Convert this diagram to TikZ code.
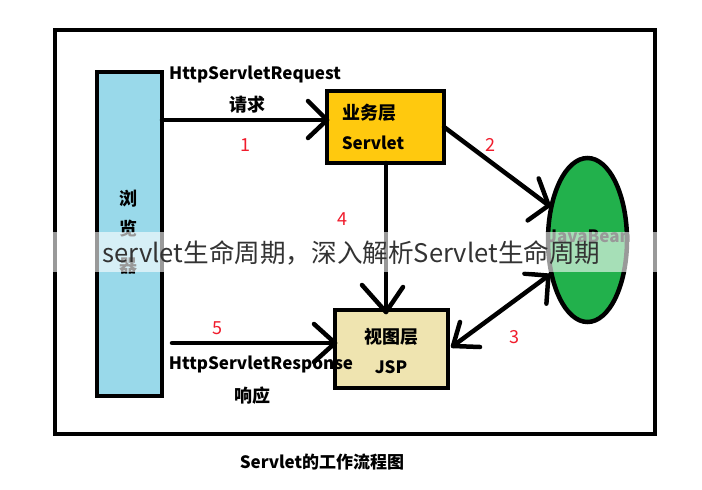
\documentclass[tikz,border=0pt]{standalone}
\usepackage{fontspec}
\setmainfont{Noto Sans CJK SC}
\definecolor{paintblue}{HTML}{99D9EA}
\definecolor{paintorange}{HTML}{FFC90E}
\definecolor{paintgreen}{HTML}{22B14C}
\definecolor{painttan}{HTML}{EFE4B0}
\definecolor{paintred}{HTML}{F01C2C}
\usetikzlibrary{shapes.geometric,calc}
\tikzset{
  x=1pt,y=-1pt,
  box/.style={draw=black,line width=4.5pt,outer sep=0pt,inner sep=0pt,anchor=north west},
  conn/.style={draw=black,line width=4.5pt,line cap=round,line join=round},
  lbl/.style={font=\bfseries\fontsize{17}{20}\selectfont,text=black,inner sep=0pt},
  cnlbl/.style={font=\bfseries\fontsize{18}{21}\selectfont,text=black,inner sep=0pt},
  num/.style={font=\fontsize{18}{21}\selectfont,text=paintred,inner sep=0pt},
}
\begin{document}
\begin{tikzpicture}
\useasboundingbox (0,0) rectangle (702,490);
\fill[white] (0,0) rectangle (702,490);
\draw[black,line width=4.5pt] (55,30) rectangle (655,434);
% boxes
\node[box,fill=paintblue,minimum width=65pt,minimum height=324pt] (browser) at (97,72) {};
\node[box,fill=paintorange,minimum width=117pt,minimum height=72pt] (servlet) at (327,91) {};
\node[box,fill=painttan,minimum width=113pt,minimum height=78pt] (jsp) at (335,310) {};
\node[draw=black,line width=4.5pt,fill=paintgreen,ellipse,outer sep=0pt,inner sep=0pt,minimum width=79pt,minimum height=164pt] (bean) at (587.5,240) {};
\coordinate (respstart) at (172,343);
% connectors
\draw[conn] (browser.east |- 0,120) coordinate (a1) -- (servlet.west |- a1) coordinate (t1);
\draw[conn] ($(t1)+(-19,-19)$) -- (t1) -- ($(t1)+(-19,18)$);
\coordinate (t2) at ($(bean.136)+(-3,0)$);
\draw[conn] (servlet.east) -- (t2);
\draw[conn] ($(t2)+(-10,-27)$) -- (t2) -- ($(t2)+(-21,15)$);
\draw[conn] (servlet.south -| 386,0) coordinate (a4) -- (386,312) coordinate (t4);
\draw[conn] ($(t4)+(-24,-27)$) -- (t4) -- ($(t4)+(17,-25)$);
\coordinate (t3b) at ($(bean.227)+(-4,-2)$);
\draw[conn] (jsp.east |- 0,346) ++(5,0) coordinate (t3a) -- (t3b);
\draw[conn] ($(t3a)+(7,-24)$) -- (t3a) -- ($(t3a)+(27,1)$);
\draw[conn] ($(t3b)+(-24,-2)$) -- (t3b) -- ($(t3b)+(-2,28)$);
\draw[conn] (respstart) -- (jsp.west |- respstart) coordinate (t5);
\draw[conn] ($(t5)+(-21,-19)$) -- (t5) -- ($(t5)+(-21,19)$);
% labels
\node[lbl] (reqname) at (255,74) {HttpServletRequest};
\node[cnlbl] (reqcn) at (247,105) {请求};
\node[cnlbl] (svcn) at (369,113) {业务层};
\node[lbl] (svname) at (373,143) {Servlet};
\node[cnlbl] (jspcn) at (391,337) {视图层};
\node[lbl] (jspname) at (391,367) {JSP};
\node[lbl] (respname) at (261,364) {HttpServletResponse};
\node[cnlbl] (respcn) at (252,396) {响应};
\node[lbl] (title) at (322,462) {Servlet的工作流程图};
\node[cnlbl] (b1) at (128,199) {浏};
\node[cnlbl] (b2) at (128,229) {览};
\node[cnlbl] (b3) at (128,266) {器};
\node[lbl] (jb) at (589,236) {JavaBean};
\node[num] (n1) at (245,145) {1};
\node[num] (n2) at (490,145) {2};
\node[num] (n3) at (514,337) {3};
\node[num] (n4) at (342,219) {4};
\node[num] (n5) at (217,328) {5};
% overlay band
\fill[white,opacity=0.6] (0,232) rectangle (702,272);
\node[font=\fontsize{25.6}{30}\selectfont,text=black!80,inner sep=0pt] (banner) at (351.5,253) {servlet生命周期，深入解析Servlet生命周期};
\end{tikzpicture}
\end{document}
